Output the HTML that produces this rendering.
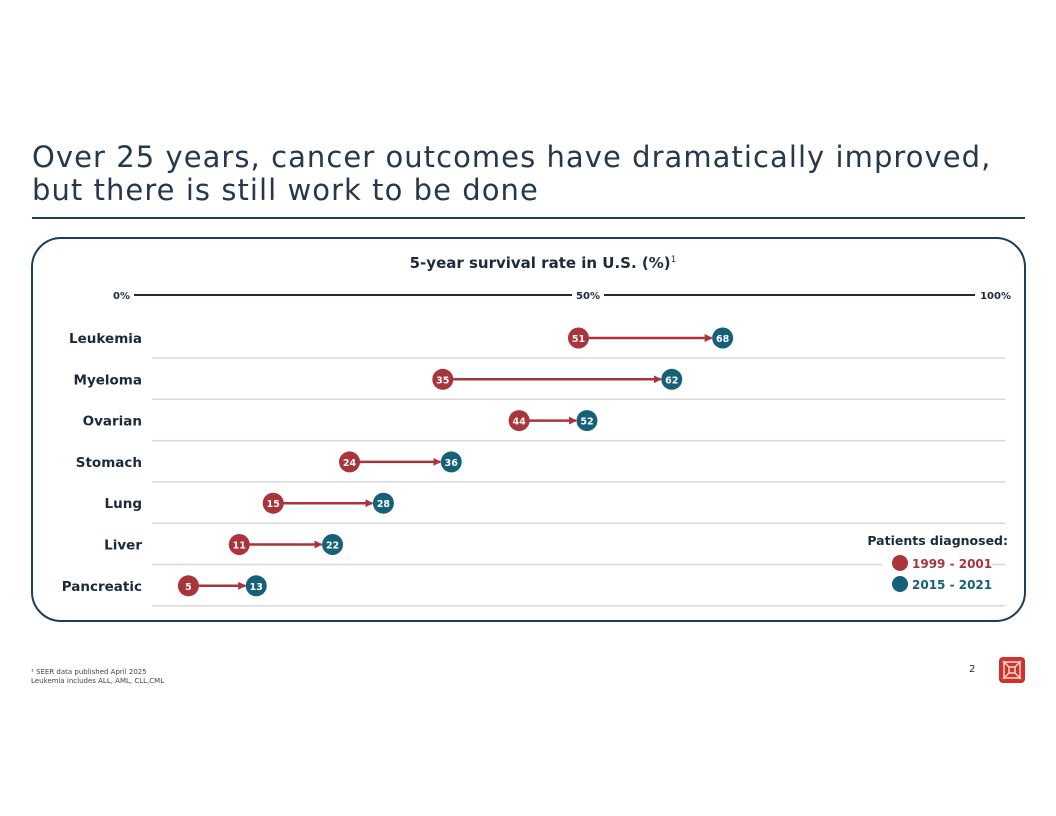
<!DOCTYPE html>
<html><head><meta charset="utf-8"><style>
body{margin:0;background:#fff;font-family:"DejaVu Sans","Liberation Sans",sans-serif;}
#root{position:relative;width:1056px;height:816px;overflow:hidden;}
.t{position:absolute;color:#1d2a3a;}
</style></head><body><div id="root">
<div class="t" style="left:32px;top:141px;font-size:29px;line-height:33px;color:#26384c;letter-spacing:1.05px;white-space:nowrap;">Over 25 years, cancer outcomes have dramatically improved,<br>but there is still work to be done</div>
<div style="position:absolute;left:32px;top:217px;width:993px;height:2px;background:#1d3d5a"></div>
<div style="position:absolute;left:31px;top:237px;width:991px;height:381px;border:2px solid #1d3d5a;border-radius:30px"></div>
<div class="t" style="left:0;width:1086px;text-align:center;top:254px;font-size:15px;font-weight:bold">5-year survival rate in U.S. (%)<sup style="font-size:9px;font-weight:normal">1</sup></div>
<svg id="c" width="1056" height="816" style="position:absolute;left:0;top:0"></svg>
<div class="t" style="left:31px;top:668px;font-size:7px;line-height:9px;color:#444">¹ SEER data published April 2025<br>Leukemia includes ALL, AML, CLL,CML</div>
<div class="t" style="left:969px;top:664px;font-size:10px">2</div>
<svg style="position:absolute;left:999px;top:657px" width="26" height="26"><rect width="26" height="26" rx="4" fill="#d0332e"/><path d="M5 5 L21 5 L16 10 L10 10Z M5 21 L21 21 L16 16 L10 16Z M5 5 L10 10 L10 16 L5 21Z M21 5 L16 10 L16 16 L21 21Z" fill="none" stroke="#f6d7d0" stroke-width="1.5"/></svg>
</div>
<script>
const categories=["Leukemia","Myeloma","Ovarian","Stomach","Lung","Liver","Pancreatic"];
const before=[51,35,44,24,15,11,5];
const after=[68,62,52,36,28,22,13];
const ticks=[0,50,100];
const tickLabels=["0%","50%","100%"];
const svg=document.getElementById('c');const NS='http://www.w3.org/2000/svg';
const FF='DejaVu Sans, Liberation Sans, sans-serif';
const x=v=>146+8.48*v;
const rowY=i=>338+i*41.3;
function mk(t,a){const e=document.createElementNS(NS,t);for(const k in a)e.setAttribute(k,a[k]);svg.appendChild(e);return e;}
const RED='#a9343b',TEAL='#17607a';
let defs=mk('defs',{});defs.innerHTML='<marker id="ah" markerWidth="8" markerHeight="8" refX="7" refY="4" orient="auto" markerUnits="userSpaceOnUse"><path d="M0,0 L8,4 L0,8Z" fill="'+RED+'"/></marker>';
let ax=mk('line',{x1:134,x2:975,y1:295,y2:295,stroke:'#1d2a3a','stroke-width':2});

ticks.forEach((t,i)=>{const tx=mk('text',{x:i==0?130:(i==2?1011:x(t)+18),y:299,'font-size':10,'font-weight':'bold',fill:'#1d2a3a','text-anchor':i==0?'end':(i==2?'end':'middle'),'font-family':FF});
if(i==1){mk('rect',{x:x(t)+2,y:288,width:32,height:12,fill:'#fff'});svg.appendChild(tx);}
tx.textContent=tickLabels[i];});
categories.forEach((c,i)=>{const y=rowY(i);
const sep=mk('line',{x1:152,x2:1005,y1:y+20,y2:y+20,stroke:'#d8d8d8','stroke-width':1.5});

const lb=mk('text',{x:142,y:y+5,'font-size':13.5,'font-weight':'bold',fill:'#1d2a3a','text-anchor':'end','font-family':FF});lb.textContent=c;

const ln=mk('line',{x1:x(before[i])+10,x2:x(after[i])-11,y1:y,y2:y,stroke:RED,'stroke-width':2.5,'marker-end':'url(#ah)'});

[[before[i],RED,'dot-1999-2001'],[after[i],TEAL,'dot-2015-2021']].forEach(([v,col,n])=>{
const ci=mk('circle',{cx:x(v),cy:y,r:10.5,fill:col});
const tt=mk('text',{x:x(v),y:y+4,'font-size':9.5,'font-weight':'bold',fill:'#fff','text-anchor':'middle','font-family':FF});tt.textContent=v;
});
});
const lg=mk('rect',{x:882,y:552,width:110,height:40,fill:'#fff'});
const lt=mk('text',{x:1008,y:545,'font-size':12.5,'font-weight':'bold',fill:'#1d2a3a','text-anchor':'end','font-family':FF});lt.textContent='Patients diagnosed:';

[['1999 - 2001',RED,563],['2015 - 2021',TEAL,584]].forEach(([s,col,y])=>{
const c=mk('circle',{cx:900,cy:y,r:8,fill:col});
const t=mk('text',{x:912,y:y+5,'font-size':12,'font-weight':'bold',fill:col,'font-family':FF});t.textContent=s;
});
</script></body></html>
